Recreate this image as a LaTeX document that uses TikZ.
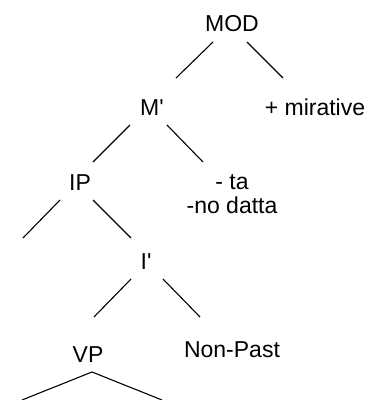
\documentclass[tikz,border=0pt]{standalone}
\usepackage{fontspec}
\setmainfont{Liberation Sans}
\tikzset{
  cat/.style={font=\fontsize{23}{27}\selectfont, inner sep=0pt, text height=16pt, text depth=0pt, anchor=base},
  branch/.style={black, line width=1.1pt},
}
\begin{document}
\begin{tikzpicture}[x=1pt, y=-1pt]
  \useasboundingbox (0,0) rectangle (371,400);
  % labels sit on their baselines
  \node[cat] (mod) at (232,31.5) {MOD};
  \node[cat] (mp) at (152,115) {M\textquotesingle};
  \node[cat] (mir) at (315,115) {+ mirative};
  \node[cat] (ip) at (80,190.5) {IP};
  \node[cat] (ta) at (232,189) {- ta};
  \node[cat] (nd) at (232,213) {-no datta};
  \node[cat] (ibar) at (146,269) {I\textquotesingle};
  \node[cat] (vp) at (88,362) {VP};
  \node[cat] (np) at (232,357) {Non-Past};
  % loose ends
  \coordinate (ipl) at (23,238);
  \coordinate (vpl) at (22,400);
  \coordinate (vpr) at (162,400);
  % branches
  \draw[branch] ([shift={(-19,18.5)}]mod.center) -- ([shift={(24,-29)}]mp.center);
  \draw[branch] ([shift={(15,18.5)}]mod.center) -- ([shift={(-32,-29)}]mir.center);
  \draw[branch] ([shift={(-22,18)}]mp.center) -- ([shift={(13,-20.5)}]ip.center);
  \draw[branch] ([shift={(15,18)}]mp.center) -- ([shift={(-29,-19)}]ta.center);
  \draw[branch] ([shift={(-20,17.5)}]ip.center) -- (ipl);
  \draw[branch] ([shift={(13,17.5)}]ip.center) -- ([shift={(-15,-23)}]ibar.center);
  \draw[branch] ([shift={(-15,18)}]ibar.center) -- ([shift={(6,-37)}]vp.center);
  \draw[branch] ([shift={(17,18)}]ibar.center) -- ([shift={(-32,-32)}]np.center);
  % triangle under VP
  \draw[branch] (vpl) -- ([shift={(4,18)}]vp.center) -- (vpr);
\end{tikzpicture}
\end{document}
